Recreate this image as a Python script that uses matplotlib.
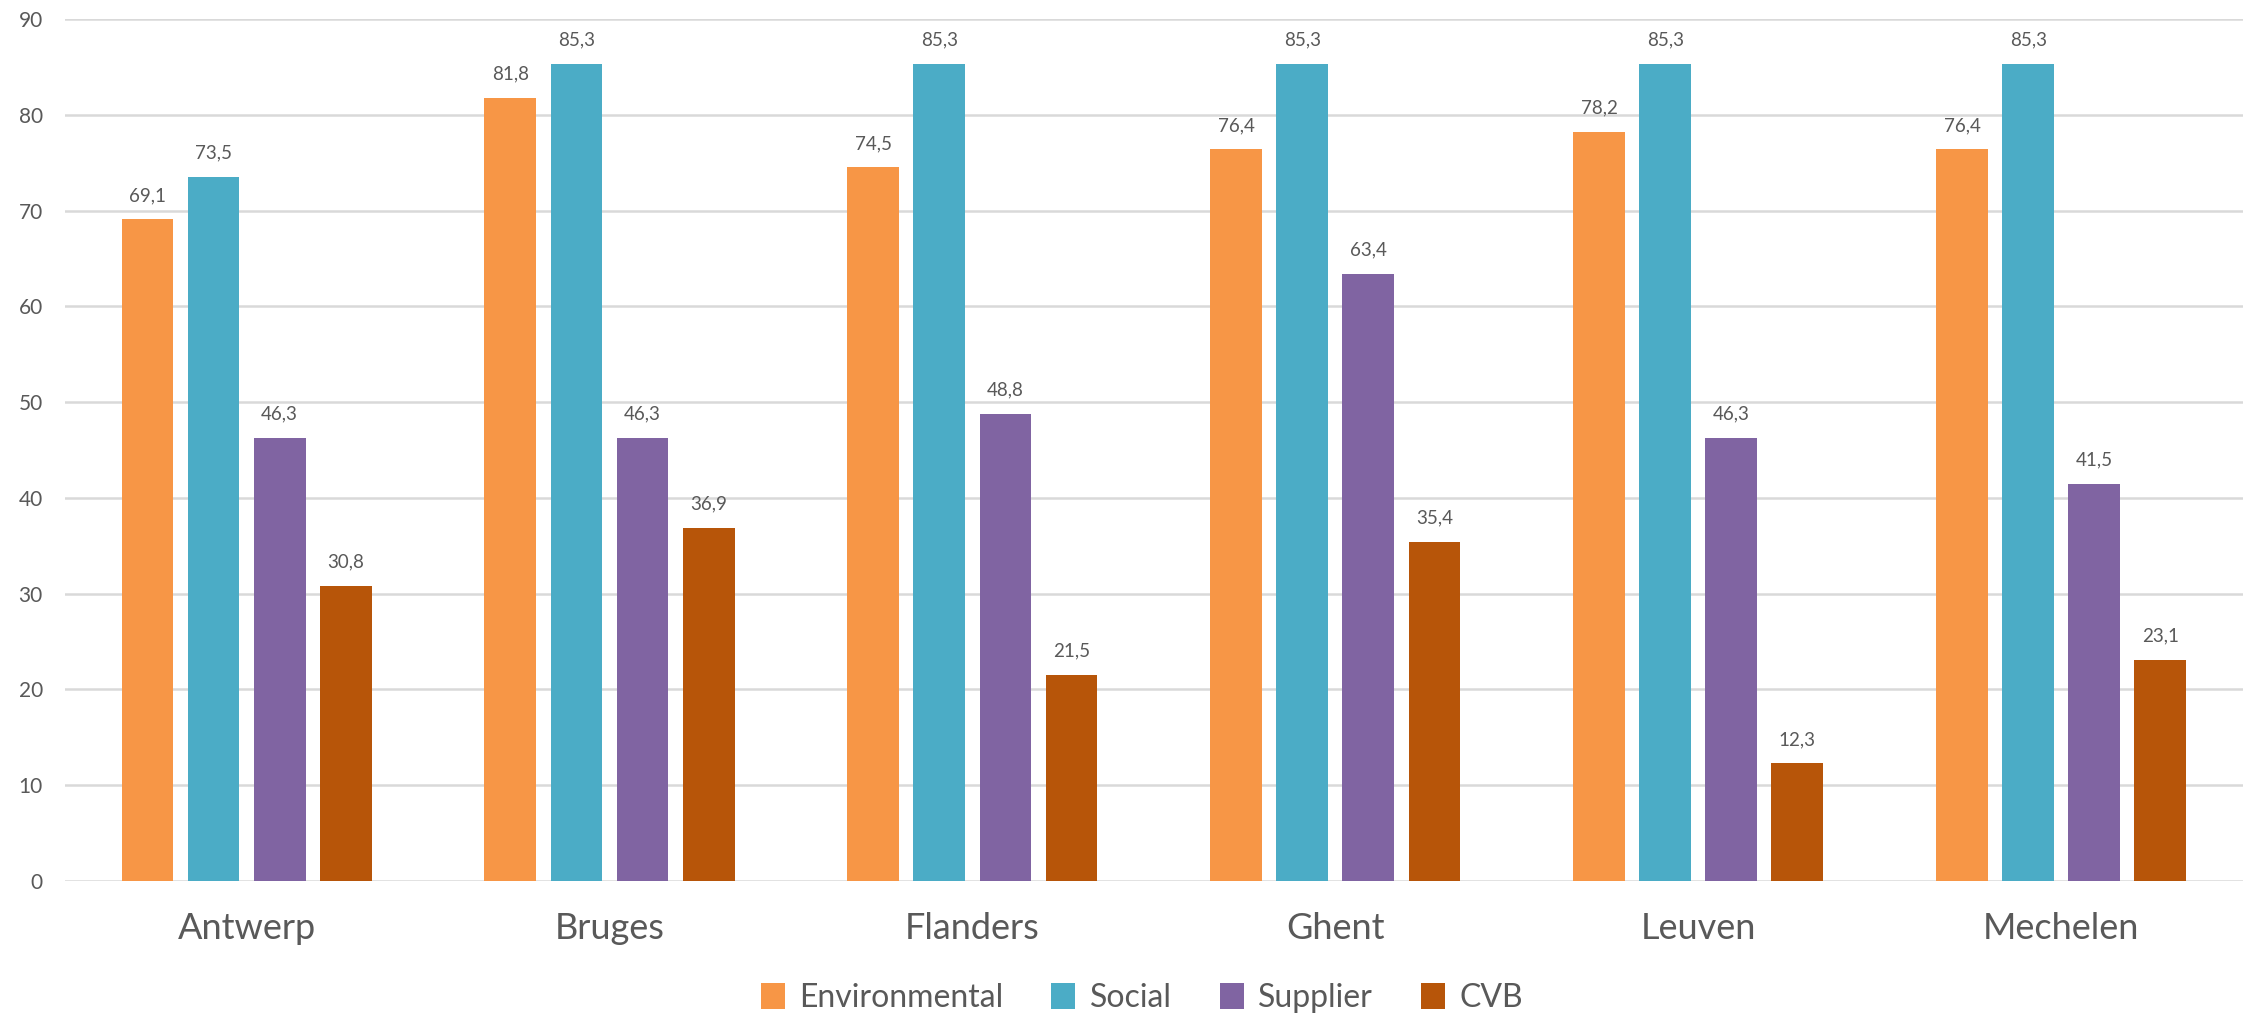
import matplotlib
matplotlib.use("Agg")
import matplotlib.pyplot as plt
import numpy as np

categories = ["Antwerp", "Bruges", "Flanders", "Ghent", "Leuven", "Mechelen"]
series_names = ["Environmental", "Social", "Supplier", "CVB"]
environmental = [69.1, 81.8, 74.5, 76.4, 78.2, 76.4]
social = [73.5, 85.3, 85.3, 85.3, 85.3, 85.3]
supplier = [46.3, 46.3, 48.8, 63.4, 46.3, 41.5]
cvb = [30.8, 36.9, 21.5, 35.4, 12.3, 23.1]
yticks = [0, 10, 20, 30, 40, 50, 60, 70, 80, 90]

colors = ["#F79646", "#4BACC6", "#8064A2", "#B75509"]
text_color = "#595959"
plt.rcParams['font.family'] = ['Lato', 'DejaVu Sans']

fig = plt.figure(figsize=(22.52, 10.17), dpi=100)
ax = fig.add_axes([0.0289, 0.1337, 0.967, 0.8476])

x = np.arange(len(categories))
width = 0.143
pitch = 0.182
all_series = [environmental, social, supplier, cvb]
for i, (vals, name, c) in enumerate(zip(all_series, series_names, colors)):
    offs = (i - 1.5) * pitch
    bars = ax.bar(x + offs, vals, width, color=c, label=name, zorder=3)
    for b, v in zip(bars, vals):
        ax.annotate(f"{v:.1f}".replace(".", ","), (b.get_x() + b.get_width() / 2, v),
                    xytext=(0, 11), textcoords="offset points", ha="center", va="bottom",
                    fontsize=13.5, color=text_color)

ax.set_xlim(-0.5, len(categories) - 0.5)
ax.set_ylim(0, 90)
ax.set_yticks(yticks)
ax.set_yticklabels([str(t) for t in yticks], fontsize=15, color=text_color)
ax.set_xticks(x)
ax.set_xticklabels(categories, fontsize=26, color=text_color)
ax.tick_params(axis="both", length=0)
ax.tick_params(axis="y", pad=16)
ax.tick_params(axis="x", pad=22)
ax.grid(axis="y", color="#D9D9D9", linewidth=1.8, zorder=0)
for s in ax.spines.values():
    s.set_visible(False)

leg = fig.legend(loc="center", bbox_to_anchor=(0.507, 1 - 998 / 1017), ncol=4, frameon=False,
                 fontsize=23, handlelength=0.75, handleheight=0.85, handletextpad=0.45,
                 columnspacing=1.5)
for t in leg.get_texts():
    t.set_color(text_color)

fig.savefig("out.png", dpi=100, facecolor="white")
